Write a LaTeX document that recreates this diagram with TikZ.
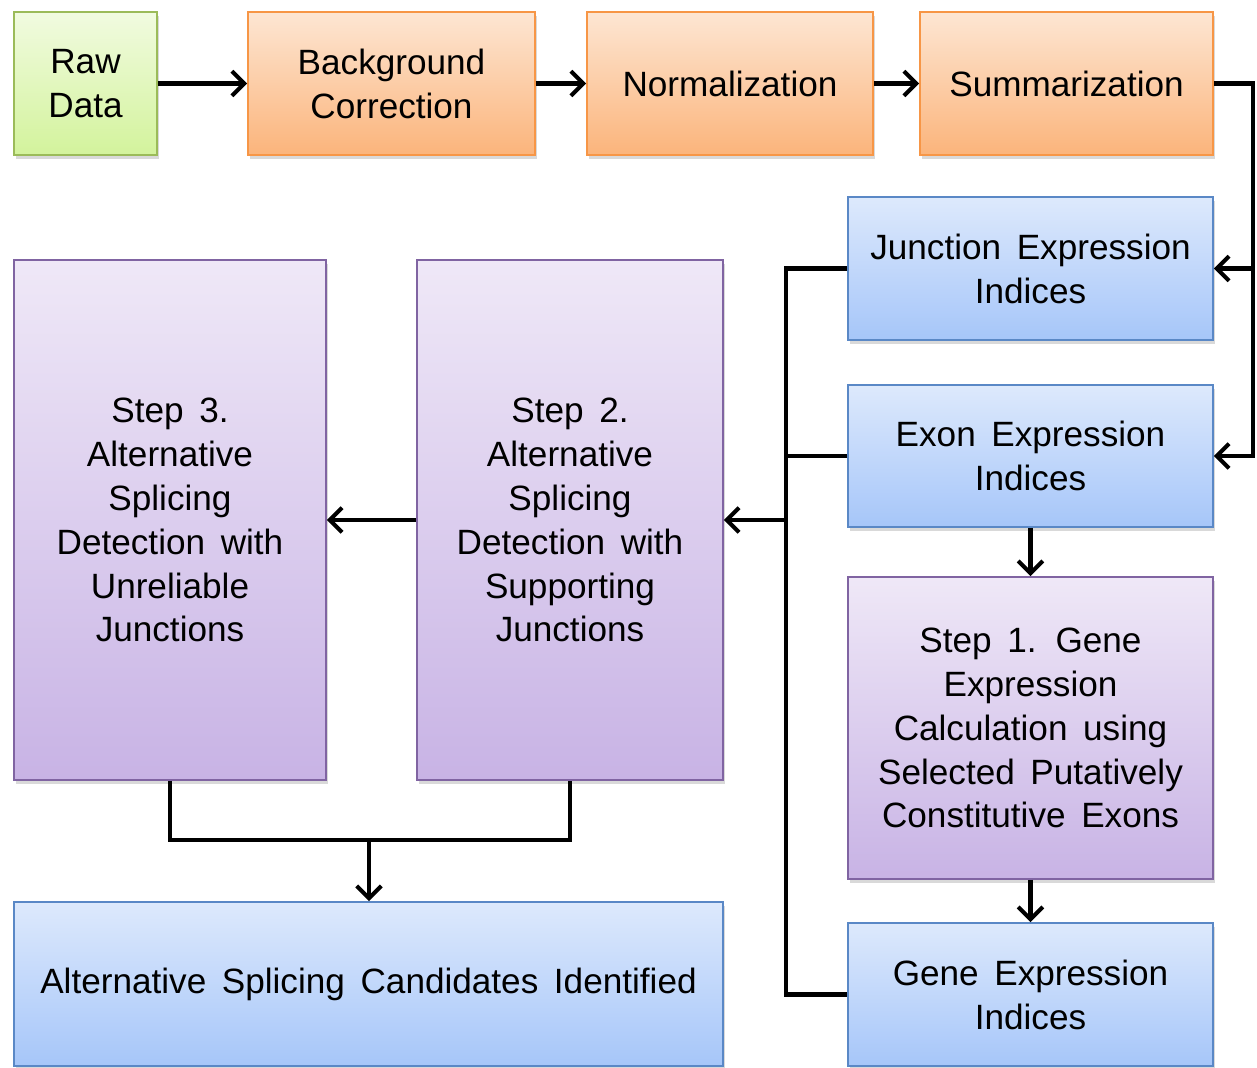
\documentclass[tikz,border=0pt]{standalone}
\usepackage{fontspec}
\setmainfont[WordSpace=1.6]{Liberation Sans}
\usetikzlibrary{arrows.meta,shadows}
\definecolor{GreenTop}{HTML}{F1FBE0}
\definecolor{GreenBot}{HTML}{D3F39C}
\definecolor{GreenLine}{HTML}{9BBB59}
\definecolor{OrangeTop}{HTML}{FDE6D3}
\definecolor{OrangeBot}{HTML}{FBB47B}
\definecolor{OrangeLine}{HTML}{F79646}
\definecolor{BlueTop}{HTML}{DDE9FC}
\definecolor{BlueBot}{HTML}{A6C6F9}
\definecolor{BlueLine}{HTML}{5A88C6}
\definecolor{PurpleTop}{HTML}{EFE8F7}
\definecolor{PurpleBot}{HTML}{C8B3E5}
\definecolor{PurpleLine}{HTML}{8064A2}

\begin{document}
\begin{tikzpicture}[
        every node/.style={rectangle, draw, line width=1.1pt, align=center, inner sep=2pt,
            font=\fontsize{20}{25}\selectfont,
            drop shadow={opacity=0.3, shadow xshift=0.04cm, shadow yshift=-0.07cm}},
        raw/.style={draw=GreenLine, top color=GreenTop, bottom color=GreenBot},
        proc/.style={draw=OrangeLine, top color=OrangeTop, bottom color=OrangeBot},
        index/.style={draw=BlueLine, top color=BlueTop, bottom color=BlueBot},
        stepbox/.style={draw=PurpleLine, top color=PurpleTop, bottom color=PurpleBot},
        line/.style={line width=2.3pt},
        arr/.style={line width=2.3pt, -{Straight Barb[length=7pt,width=14pt,line width=2.3pt]}}]
        \useasboundingbox (0,0) rectangle (25.14,-21.36);
        \node[raw, minimum width=2.86cm, minimum height=2.86cm] (raw) at (1.71,-1.67) {Raw\\Data};
        \node[proc, minimum width=5.74cm, minimum height=2.86cm] (bg) at (7.83,-1.67) {Background\\Correction};
        \node[proc, minimum width=5.72cm, minimum height=2.86cm] (norm) at (14.60,-1.67) {Normalization};
        \node[proc, minimum width=5.86cm, minimum height=2.86cm] (summ) at (21.33,-1.67) {Summarization};
        \node[index, minimum width=7.30cm, minimum height=2.86cm] (junc) at (20.61,-5.37) {Junction Expression\\Indices};
        \node[index, minimum width=7.30cm, minimum height=2.84cm] (exon) at (20.61,-9.12) {Exon Expression\\Indices};
        \node[stepbox, minimum width=7.30cm, minimum height=6.04cm] (step1) at (20.61,-14.56)
            {Step 1. Gene\\Expression\\Calculation using\\Selected Putatively\\Constitutive Exons};
        \node[index, minimum width=7.30cm, minimum height=2.86cm] (gene) at (20.61,-19.89) {Gene Expression\\Indices};
        \node[stepbox, minimum width=6.12cm, minimum height=10.40cm] (step2) at (11.40,-10.40)
            {Step 2.\\Alternative\\Splicing\\Detection with\\Supporting\\Junctions};
        \node[stepbox, minimum width=6.24cm, minimum height=10.40cm] (step3) at (3.40,-10.40)
            {Step 3.\\Alternative\\Splicing\\Detection with\\Unreliable\\Junctions};
        \node[index, minimum width=14.18cm, minimum height=3.28cm] (cand) at (7.37,-19.68)
            {Alternative Splicing Candidates Identified};
        \coordinate (bus) at (15.72,-10.40);
        \coordinate (rbus) at (25.06,-1.67);
        \coordinate (merge) at (7.38,-16.80);
        \draw[arr] (raw) -- (bg);
        \draw[arr] (bg) -- (norm);
        \draw[arr] (norm) -- (summ);
        \draw[arr] (summ.east) -- (rbus) |- (junc.east);
        \draw[arr] (rbus) |- (exon.east);
        \draw[line] (junc.west) -- (junc.west -| bus) -- (gene.west -| bus) -- (gene.west);
        \draw[line] (exon.west) -- (exon.west -| bus);
        \draw[arr] (bus) -- (step2.east);
        \draw[arr] (step2.west) -- (step3.east);
        \draw[arr] (exon) -- (step1);
        \draw[arr] (step1) -- (gene);
        \draw[line] (step3.south) |- (step2.south |- merge) -- (step2.south);
        \draw[arr] (merge) -- (merge |- cand.north);
    \end{tikzpicture}
\end{document}
